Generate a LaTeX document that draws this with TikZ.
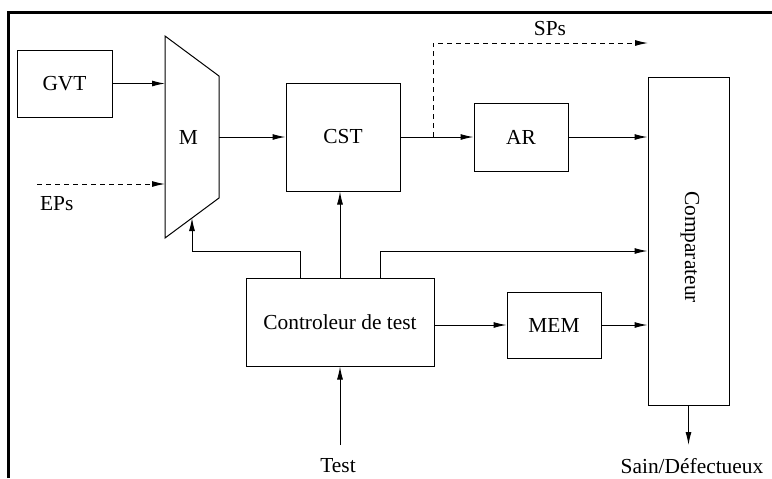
\documentclass[tikz,border=0pt]{standalone}
\usepackage{fontspec}
\setmainfont{Liberation Serif}
\usetikzlibrary{arrows.meta}

\begin{document}
\begin{tikzpicture}[x=0.5pt, y=-0.5pt,
    font=\fontsize{10.7}{13}\selectfont,
    bloc/.style={draw, line width=0.5pt, inner sep=0pt},
    fl/.style={-{Latex[length=6.5pt,width=3pt]}, line width=0.5pt},
    pointille/.style={dash pattern=on 2.5pt off 2pt}]
    \useasboundingbox (0,0) rectangle (772,478);
    \draw[line width=1.5pt] (8,478) -- (8,12) -- (772,12);

    % blocs
    \node[bloc, minimum width=47.5pt, minimum height=33.5pt] (gvt) at (64.5,83.5) {GVT};
    \draw[line width=0.5pt] (165,36) coordinate (mh) -- (219,76) -- (219,198)
        -- (165,238) -- cycle;
    \coordinate (mout) at (219,137);
    \coordinate (mbas) at (192,218);
    \node (m) at (188.5,137) {M};
    \node[bloc, minimum width=57pt, minimum height=54pt] (cst) at (343,137) {CST};
    \node[bloc, minimum width=47pt, minimum height=34pt] (ar) at (521,137) {AR};
    \node[bloc, minimum width=40.5pt, minimum height=164pt] (comp) at (688.5,241) {};
    \node[rotate=-90] (complab) at (690,247) {Comparateur};
    \node[bloc, minimum width=94pt, minimum height=44pt] (ctrl) at (340,322) {Controleur de test};
    \node[bloc, minimum width=47pt, minimum height=33pt] (mem) at (554,325) {MEM};

    % entrees / sorties
    \coordinate (eps) at (37,184);
    \node[anchor=west] (epslab) at (33,204) {EPs};
    \coordinate (br) at (433,137);
    \coordinate (sps) at (648,43);
    \node (spslab) at (550,29) {SPs};
    \coordinate (testin) at (340,445);
    \node (test) at (338,466) {Test};
    \coordinate (sortie) at (688.5,445);
    \node (sain) at (692,466) {Sain/Défectueux};

    % liaisons
    \draw[fl] (gvt.east) -- (mh |- gvt.east);
    \draw[fl, pointille] (eps) -- (mh |- eps);
    \draw[fl] (mout) -- (cst.west);
    \draw[fl] (cst.east) -- (ar.west);
    \draw[fl, pointille] (br) |- (sps);
    \draw[fl] (ar.east) -- (ar.east -| comp.west);
    \draw[fl] ([xshift=-20pt]ctrl.north) |- (192,251) -- (mbas);
    \draw[fl] (ctrl.north) -- (ctrl.north |- cst.south);
    \draw[fl] ([xshift=20pt]ctrl.north) |- (comp.west |- 0,251);
    \draw[fl] (ctrl.east |- mem.west) -- (mem.west);
    \draw[fl] (mem.east) -- (mem.east -| comp.west);
    \draw[fl] (testin) -- (ctrl.south);
    \draw[fl] (comp.south) -- (sortie);
\end{tikzpicture}
\end{document}
